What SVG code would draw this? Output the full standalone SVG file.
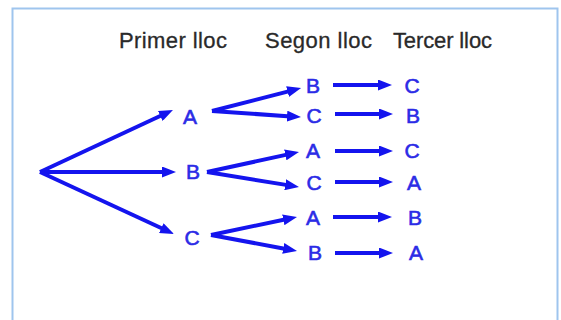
<svg xmlns="http://www.w3.org/2000/svg" width="561" height="320" viewBox="0 0 561 320">
<style>
.hdr{font-family:"Liberation Sans",Arial,sans-serif;font-size:22px;fill:#2a2a2a;stroke:#2a2a2a;stroke-width:0.3;}
.lbl{font-family:"Liberation Sans",Arial,sans-serif;font-size:21px;fill:#2b2be6;stroke:#2b2be6;stroke-width:0.6;text-anchor:middle;}
.conn line{stroke:#1414ee;stroke-width:4;marker-end:url(#ah);}
</style>
<defs>
<marker id="ah" viewBox="0 0 14 11" refX="4" refY="5.5" markerWidth="14" markerHeight="11" markerUnits="userSpaceOnUse" orient="auto">
<path d="M0,0 L14,5.5 L0,11 z" fill="#1414ee"/>
</marker>
</defs>
<rect x="0" y="0" width="561" height="320" fill="#ffffff"/>
<rect x="12.5" y="8.5" width="545" height="330" fill="#ffffff" stroke="#9fc5ee" stroke-width="2"/>
<g id="headers">
<text class="hdr" x="119" y="48" textLength="108">Primer lloc</text>
<text class="hdr" x="265" y="48" textLength="107">Segon lloc</text>
<text class="hdr" x="393" y="48" textLength="99">Tercer lloc</text>
</g>
<g class="conn" id="connectors">
<line x1="40" y1="172" x2="163.9" y2="114.2"/>
<line x1="40" y1="172" x2="166" y2="172"/>
<line x1="40" y1="172" x2="164.9" y2="229.8"/>
<line x1="212" y1="111" x2="291.4" y2="90.6"/>
<line x1="212" y1="111" x2="291" y2="116.4"/>
<line x1="207" y1="172" x2="289.2" y2="154.1"/>
<line x1="207" y1="172" x2="289.1" y2="185.4"/>
<line x1="211" y1="235" x2="287.2" y2="219"/>
<line x1="211" y1="235" x2="287.2" y2="249.2"/>
<line x1="333" y1="85" x2="382" y2="85"/>
<line x1="335" y1="114" x2="383" y2="114"/>
<line x1="335" y1="151" x2="383" y2="151"/>
<line x1="335" y1="182" x2="383" y2="182"/>
<line x1="333" y1="217" x2="382" y2="217"/>
<line x1="335" y1="253" x2="383" y2="253"/>
</g>
<g id="l1-A"><text class="lbl" x="190" y="123.5">A</text></g>
<g id="l1-B"><text class="lbl" x="193" y="178.5">B</text></g>
<g id="l1-C"><text class="lbl" x="192" y="244.5">C</text></g>
<g id="l2-B1"><text class="lbl" x="313" y="93">B</text></g>
<g id="l2-C1"><text class="lbl" x="314" y="122.5">C</text></g>
<g id="l2-A1"><text class="lbl" x="313" y="157.5">A</text></g>
<g id="l2-C2"><text class="lbl" x="314" y="189.5">C</text></g>
<g id="l2-A2"><text class="lbl" x="313" y="224.5">A</text></g>
<g id="l2-B2"><text class="lbl" x="315" y="259.5">B</text></g>
<g id="l3-C1"><text class="lbl" x="412" y="93">C</text></g>
<g id="l3-B1"><text class="lbl" x="413" y="122.5">B</text></g>
<g id="l3-C2"><text class="lbl" x="412" y="157.5">C</text></g>
<g id="l3-A1"><text class="lbl" x="414" y="189.5">A</text></g>
<g id="l3-B2"><text class="lbl" x="415" y="224.5">B</text></g>
<g id="l3-A2"><text class="lbl" x="416" y="259.5">A</text></g>
</svg>
